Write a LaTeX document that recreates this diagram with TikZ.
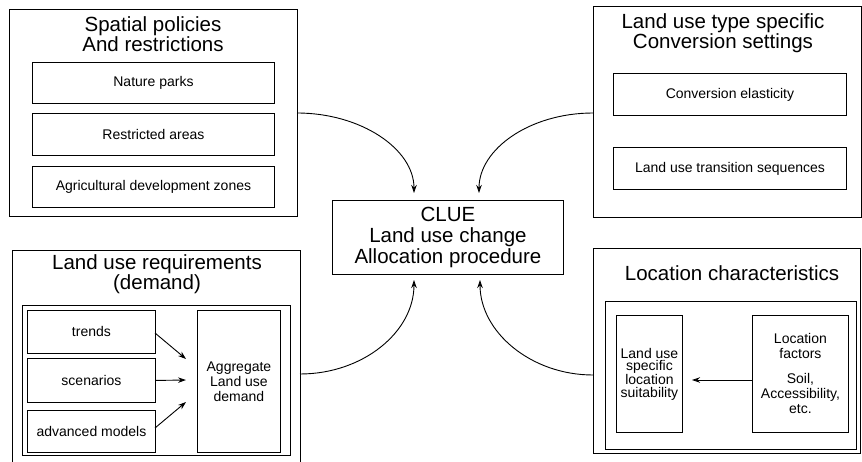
\documentclass[tikz,border=0pt]{standalone}
\usepackage{fontspec}
\setmainfont{Liberation Sans}
\usetikzlibrary{arrows.meta}
\begin{document}
\begin{tikzpicture}[x=1pt,y=-1pt,
  box/.style={draw, line width=0.9pt, rectangle, inner sep=0pt, anchor=north west},
  frame/.style={line width=0.9pt},
  ttl/.style={font=\fontsize{20.5}{20.5}\selectfont, align=center, inner sep=0pt},
  lbl/.style={font=\fontsize{14}{15}\selectfont, align=center},
  arr/.style={line width=0.9pt, -{Stealth[length=8pt,width=5.5pt]}}]
\useasboundingbox (0,0) rectangle (862,462);

% ---------- top left ----------
\node[box, minimum width=288pt, minimum height=207pt] (tl) at (9,9) {};
\node[ttl] (tlt) at (153,34) {Spatial policies\\And restrictions};
\node[box, lbl, minimum width=242pt, minimum height=41pt] (np) at (32,62) {Nature parks};
\node[box, lbl, minimum width=242pt, minimum height=42pt] (ra) at (32,113) {Restricted areas};
\node[box, lbl, minimum width=242pt, minimum height=41pt] (ad) at (32,166) {Agricultural development zones};

% ---------- top right ----------
\node[box, minimum width=268pt, minimum height=211pt] (tr) at (593,6) {};
\node[ttl] (trt) at (723,33) {Land use type specific\\Conversion settings};
\node[box, lbl, minimum width=233pt, minimum height=42pt] (ce) at (613,73) {Conversion elasticity};
\node[box, lbl, minimum width=233pt, minimum height=42pt] (lt) at (613,147) {Land use transition sequences};

% ---------- centre ----------
\node[box, minimum width=231pt, minimum height=74pt, ttl, font=\fontsize{20.5}{21}\selectfont] (clue) at (332,200) {CLUE\\Land use change\\Allocation procedure};

% ---------- bottom left ----------
\node[box, draw=none, minimum width=288pt, minimum height=213pt] (bl) at (12,250) {};
\draw[frame] (bl.south west) |- (bl.north east) -- (bl.south east);
\node[ttl] (blt) at (157,274) {Land use requirements\\(demand)};
\node[box, minimum width=268pt, minimum height=150pt] (blf) at (22,305) {};
\node[box, lbl, minimum width=128pt, minimum height=43pt] (tre) at (27,310) {trends};
\node[box, lbl, minimum width=128pt, minimum height=44pt] (sce) at (27,358) {scenarios};
\node[box, lbl, minimum width=128pt, minimum height=42pt] (adv) at (27,410) {advanced models};
\node[box, lbl, minimum width=83pt, minimum height=142pt] (agg) at (197,310) {Aggregate\\Land use\\demand};
\coordinate (t0) at (155,333);
\coordinate (t1) at (186,359);
\coordinate (s1) at (186,380);
\coordinate (a0) at (155,428);
\coordinate (a1) at (186,402);
\draw[arr] (t0) -- (t1);
\draw[arr] (sce.east) -- (s1);
\draw[arr] (a0) -- (a1);

% ---------- bottom right ----------
\node[box, minimum width=267pt, minimum height=205pt] (br) at (593,248) {};
\node[ttl] (brt) at (732,273) {Location characteristics};
\node[box, minimum width=251pt, minimum height=148pt] (brf) at (605,301) {};
\node[box, font=\fontsize{14}{12.5}\selectfont, align=center, minimum width=66pt, minimum height=117pt] (lus) at (616,315) {Land use\\specific\\location\\suitability};
\node[box, lbl, minimum width=96pt, minimum height=117pt] (lf) at (752,315) {Location\\factors\\[10pt]Soil,\\Accessibility,\\etc.};
\coordinate (l0) at (752,380);
\coordinate (l1) at (692,380);
\draw[arr] (l0) -- (l1);

% ---------- curved connectors ----------
\coordinate (ca) at (297,113);
\coordinate (cb) at (593,113);
\coordinate (cc) at (300,374);
\coordinate (cd) at (593,375);
\coordinate (ea) at (414,193);
\coordinate (eb) at (479,193);
\coordinate (ec) at (414,280);
\coordinate (ed) at (480,280);
\draw[arr] (ca) .. controls +(64,0) and +(0,-44) .. (ea);
\draw[arr] (cb) .. controls +(-63,0) and +(0,-44) .. (eb);
\draw[arr] (cc) .. controls +(63,0) and +(0,52) .. (ec);
\draw[arr] (cd) .. controls +(-62,0) and +(0,52) .. (ed);
\end{tikzpicture}
\end{document}
